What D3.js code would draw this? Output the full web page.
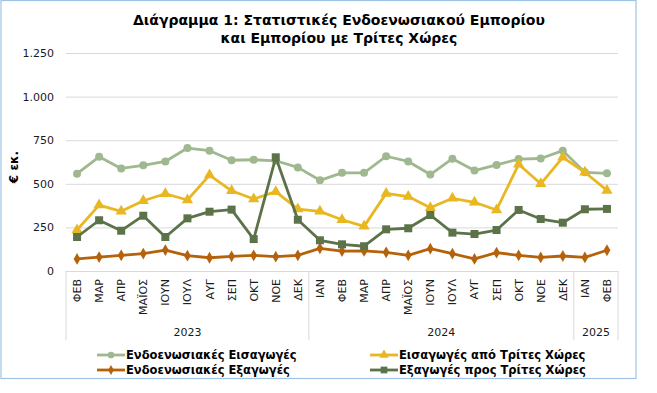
<!DOCTYPE html>
<html>
<head>
<meta charset="utf-8">
<script src="https://cdn.jsdelivr.net/npm/d3@7"></script>
<style>
  body { margin: 0; background: #fff; }
  svg { font-family: "DejaVu Sans", Verdana, sans-serif; }
</style>
</head>
<body>
<div id="chart"></div>
<script>
// months and years (category axis)
var months = ["ΦΕΒ","ΜΑΡ","ΑΠΡ","ΜΑΪΟΣ","ΙΟΥΝ","ΙΟΥΛ","ΑΥΓ","ΣΕΠ","ΟΚΤ","ΝΟΕ","ΔΕΚ",
              "ΙΑΝ","ΦΕΒ","ΜΑΡ","ΑΠΡ","ΜΑΪΟΣ","ΙΟΥΝ","ΙΟΥΛ","ΑΥΓ","ΣΕΠ","ΟΚΤ","ΝΟΕ","ΔΕΚ",
              "ΙΑΝ","ΦΕΒ"];
var years = ["2023","2024","2025"];
var yearCounts = [11, 12, 2];

var yTicks = [0, 250, 500, 750, 1000, 1250];

// series values (€ εκ.)
var intraImports = [558,655,588,606,628,705,690,635,638,632,594,520,563,563,658,628,553,644,576,608,642,645,690,566,560];
var thirdImports = [235,378,342,403,443,407,550,460,413,455,355,342,294,256,445,427,363,417,394,350,612,500,652,566,462];
var intraExports = [69,80,90,100,120,88,76,84,90,82,90,130,114,115,107,90,128,99,69,105,90,78,86,78,119];
var thirdExports = [195,291,231,317,195,302,340,352,183,652,294,176,153,142,239,245,321,220,212,235,350,298,277,354,356];

var seriesNames = ["Ενδοενωσιακές Εισαγωγές","Εισαγωγές από Τρίτες Χώρες","Ενδοενωσιακές Εξαγωγές","Εξαγωγές προς Τρίτες Χώρες"];

var W = 657, H = 393;
var pLeft = 66, pRight = 618, pTop = 53, pBottom = 271;

var svg = d3.select("#chart").append("svg")
    .attr("width", W).attr("height", H);

// outer frame
svg.append("rect")
    .attr("x", 1).attr("y", 0.5)
    .attr("width", 635).attr("height", 378)
    .attr("fill", "#fff")
    .attr("stroke", "#9dc3e6").attr("stroke-width", 1.2);

// title
var title = svg.append("text")
    .attr("text-anchor", "middle")
    .attr("font-weight", "bold")
    .attr("font-size", 14)
    .attr("fill", "#000");
title.append("tspan").attr("x", 339).attr("y", 25).text("Διάγραμμα 1: Στατιστικές Ενδοενωσιακού Εμπορίου");
title.append("tspan").attr("x", 339).attr("y", 43).text("και Εμπορίου με Τρίτες Χώρες");

var x = d3.scaleBand()
    .domain(d3.range(months.length))
    .range([pLeft, pRight]);

var y = d3.scaleLinear()
    .domain([0, 1250])
    .range([pBottom, pTop]);

var locale = d3.formatLocale({decimal: ",", thousands: ".", grouping: [3], currency: ["", "€"]});
var fmt = locale.format(",.0f");

// y axis + gridlines
var yAxis = d3.axisLeft(y)
    .tickValues(yTicks)
    .tickSize(-(pRight - pLeft))
    .tickPadding(12)
    .tickFormat(fmt);

var gy = svg.append("g")
    .attr("transform", "translate(" + pLeft + ",0)")
    .call(yAxis);
gy.select(".domain").remove();
gy.selectAll(".tick line").attr("stroke", "#d9d9d9").attr("stroke-width", 1);
gy.selectAll(".tick text")
    .attr("font-size", 11)
    .attr("fill", "#1a1a1a")
    .attr("font-family", "DejaVu Sans, Verdana, sans-serif");

// y title
svg.append("text")
    .attr("transform", "translate(18,167) rotate(-90)")
    .attr("text-anchor", "middle")
    .attr("font-weight", "bold")
    .attr("font-size", 12)
    .text("€ εκ.");

// x axis: month labels
var xAxis = d3.axisBottom(x)
    .tickSize(0)
    .tickFormat(function(i){ return months[i]; });
var gx = svg.append("g")
    .attr("transform", "translate(0," + pBottom + ")")
    .call(xAxis);
gx.select(".domain").attr("stroke", "#d9d9d9");
gx.selectAll(".tick text")
    .attr("font-size", 11)
    .attr("fill", "#1a1a1a")
    .attr("font-family", "DejaVu Sans, Verdana, sans-serif")
    .attr("text-anchor", "end")
    .attr("dy", null)
    .attr("transform", "rotate(-90)")
    .attr("x", -8)
    .attr("y", 4);

// year groups
var start = 0;
var bounds = [0];
yearCounts.forEach(function(c){ start += c; bounds.push(start); });
svg.selectAll("line.grp")
    .data(bounds)
    .enter().append("line")
    .attr("class", "grp")
    .attr("x1", function(b){ return b < months.length ? x(b) : x(months.length - 1) + x.bandwidth(); })
    .attr("x2", function(b){ return b < months.length ? x(b) : x(months.length - 1) + x.bandwidth(); })
    .attr("y1", pBottom).attr("y2", 340)
    .attr("stroke", "#d9d9d9");
svg.selectAll("text.year")
    .data(years)
    .enter().append("text")
    .attr("class", "year")
    .attr("x", function(d, i){
        var a = x(bounds[i]);
        var b = x(bounds[i + 1] - 1) + x.bandwidth();
        return (a + b) / 2;
    })
    .attr("y", 336)
    .attr("text-anchor", "middle")
    .attr("font-size", 11)
    .attr("fill", "#1a1a1a")
    .text(function(d){ return d; });

// series
var series = [
    {name: seriesNames[0], values: intraImports, color: "#9fb88f", marker: d3.symbolCircle, size: 50},
    {name: seriesNames[1], values: thirdImports, color: "#e8b722", marker: d3.symbolTriangle, size: 55},
    {name: seriesNames[2], values: intraExports, color: "#b5620b", marker: d3.symbolDiamond, size: 40},
    {name: seriesNames[3], values: thirdExports, color: "#5c7349", marker: d3.symbolSquare, size: 64}
];

var line = d3.line()
    .x(function(d, i){ return x(i) + x.bandwidth() / 2; })
    .y(function(d){ return y(d); });

series.forEach(function(s){
    var g = svg.append("g");
    g.append("path")
        .datum(s.values)
        .attr("d", line)
        .attr("fill", "none")
        .attr("stroke", s.color)
        .attr("stroke-width", 2.8)
        .attr("stroke-linejoin", "round");
    g.selectAll("path.m")
        .data(s.values)
        .enter().append("path")
        .attr("class", "m")
        .attr("d", d3.symbol().type(s.marker).size(s.size))
        .attr("transform", function(d, i){ return "translate(" + (x(i) + x.bandwidth() / 2) + "," + y(d) + ")"; })
        .attr("fill", s.color);
});

// legend
var legendPos = [[97, 355], [370, 355], [97, 370], [370, 370]];
series.forEach(function(s, i){
    var p = legendPos[i];
    var g = svg.append("g").attr("transform", "translate(" + p[0] + "," + p[1] + ")");
    g.append("line").attr("x1", 0).attr("x2", 28).attr("y1", 0).attr("y2", 0)
        .attr("stroke", s.color).attr("stroke-width", 2.8);
    g.append("path")
        .attr("d", d3.symbol().type(s.marker).size(s.size * 0.7))
        .attr("transform", "translate(14,0)")
        .attr("fill", s.color);
    g.append("text")
        .attr("x", 29).attr("y", 4)
        .attr("font-size", 11.5)
        .attr("font-weight", "bold")
        .attr("fill", "#000")
        .text(s.name);
});
</script>
</body>
</html>
